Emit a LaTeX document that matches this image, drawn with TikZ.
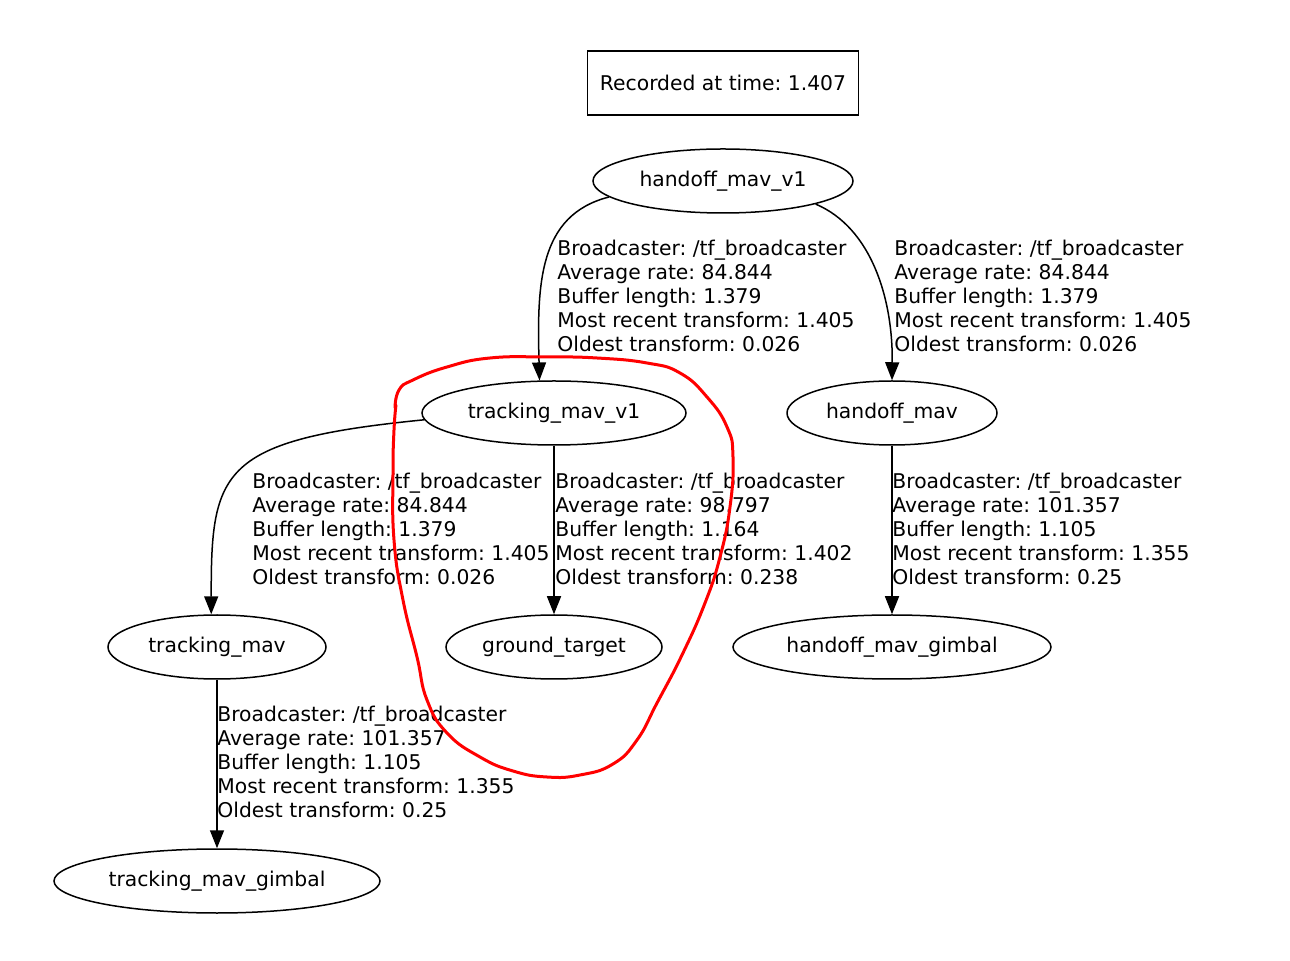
\documentclass[tikz,border=0pt]{standalone}
\usepackage{fontspec}
\setmainfont{DejaVu Sans}
\usetikzlibrary{arrows.meta,shapes.geometric}
\newcommand{\tfarrowstyle}{-{Triangle[length=9pt,width=7pt]}}
\newcommand{\tfinfo}[4]{Broadcaster: /tf\_broadcaster\\Average rate: #1\\Buffer length: #2\\Most recent transform: #3\\Oldest transform: #4}
\frenchspacing

\begin{document}
\begin{tikzpicture}[
    x=0.5pt, y=-0.5pt,
    font=\fontsize{10.15}{12}\selectfont,
    tf/.style={\tfarrowstyle, line width=0.75pt},
    frame/.style={draw, ellipse, line width=0.75pt, minimum height=32pt, inner sep=0pt},
    stamp/.style={draw, line width=0.75pt, minimum width=135.5pt, minimum height=32pt},
    info/.style={anchor=north west, align=left, inner sep=0pt},
    scribble/.style={draw=red, line width=1.5pt, line cap=round, line join=round}
]
  \useasboundingbox (0,0) rectangle (1290,961);

  \node[stamp] (stamp) at (723,83) {Recorded at time: 1.407};

  \node[frame, minimum width=130pt] (hmv1) at (723,181) {handoff\_mav\_v1};
  \node[frame, minimum width=132pt] (tmv1) at (554,413) {tracking\_mav\_v1};
  \node[frame, minimum width=105pt] (hm) at (892,413) {handoff\_mav};
  \node[frame, minimum width=109pt] (tm) at (217,647) {tracking\_mav};
  \node[frame, minimum width=108pt] (gt) at (554,647) {ground\_target};
  \node[frame, minimum width=159pt] (hmg) at (892,647) {handoff\_mav\_gimbal};
  \node[frame, minimum width=163pt] (tmg) at (217,881) {tracking\_mav\_gimbal};

  % edges
  \draw[tf] (hmv1.188) .. controls (538,215) and (537,285) .. (tmv1.114);
  \draw[tf] (hmv1.346) .. controls (872,228) and (893,300) .. (hm.north);
  \draw[tf] (tmv1.183) .. controls (220,440) and (211,470) .. (tm.100);
  \draw[tf] (tmv1.south) -- (gt.north);
  \draw[tf] (hm.south) -- (hmg.north);
  \draw[tf] (tm.south) -- (tmg.north);

  % edge labels
  \node[info] (info-1) at (557,240) {\tfinfo{84.844}{1.379}{1.405}{0.026}};
  \node[info] (info-2) at (894,240) {\tfinfo{84.844}{1.379}{1.405}{0.026}};
  \node[info] (info-3) at (252,473) {\tfinfo{84.844}{1.379}{1.405}{0.026}};
  \node[info] (info-4) at (555,473) {\tfinfo{98.797}{1.164}{1.402}{0.238}};
  \node[info] (info-5) at (892,473) {\tfinfo{101.357}{1.105}{1.355}{0.25}};
  \node[info] (info-6) at (217,706) {\tfinfo{101.357}{1.105}{1.355}{0.25}};

  % hand-drawn mark
  \draw[scribble] plot[smooth, tension=0.8] coordinates {
    (395,408) (399,390) (413,380) (447,367) (490,358) (547,357) (597,358)
    (647,363) (680,373) (707,397) (727,427) (733,457) (730,507) (720,557)
    (705,603) (682,655) (657,703) (637,740) (613,764) (580,775) (547,777)
    (513,771) (480,757) (447,733) (427,700) (417,657) (403,600) (394,540)
    (393,473) (394,430) (396,405)};
\end{tikzpicture}
\end{document}
